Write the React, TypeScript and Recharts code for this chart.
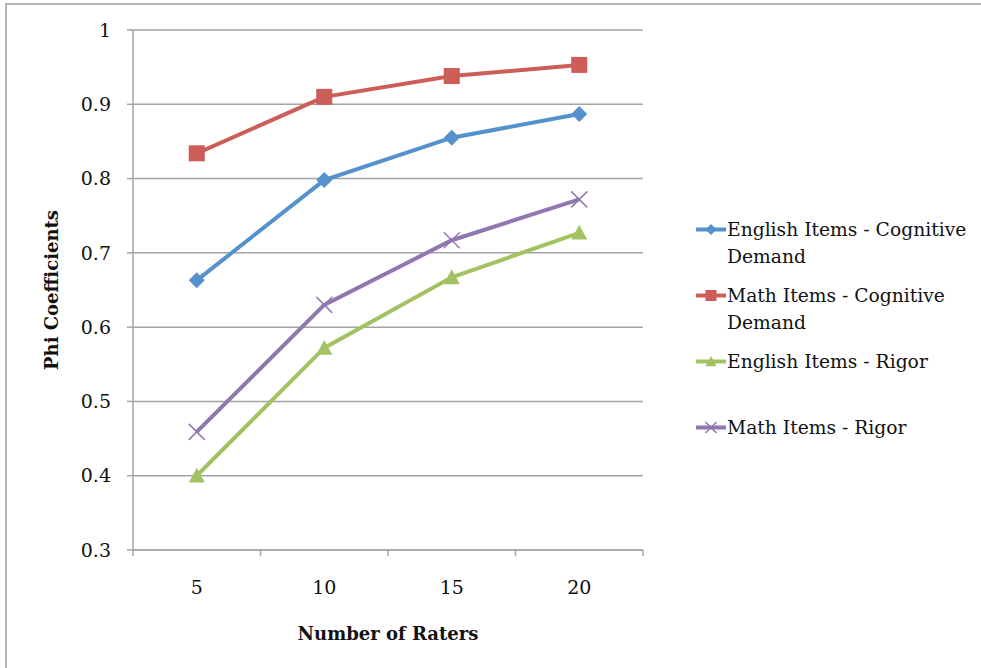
import React from 'react';
import { LineChart, Line, XAxis, YAxis, CartesianGrid } from 'recharts';

// Phi coefficients by number of raters
const raters = [5, 10, 15, 20];
const englishCognitive = [0.663, 0.798, 0.855, 0.887];
const mathCognitive = [0.834, 0.91, 0.938, 0.953];
const englishRigor = [0.4, 0.572, 0.667, 0.727];
const mathRigor = [0.459, 0.63, 0.717, 0.772];

const yTicks = [0.3, 0.4, 0.5, 0.6, 0.7, 0.8, 0.9, 1];
// category centres plus the boundaries between them
const xTicks = [2.5, 5, 7.5, 10, 12.5, 15, 17.5, 20, 22.5];

const SERIES = [
    { key: 'englishCognitive', name: 'English Items - Cognitive Demand', lines: ['English Items - Cognitive', 'Demand'], color: '#5591CD', shape: 'diamond' },
    { key: 'mathCognitive', name: 'Math Items - Cognitive Demand', lines: ['Math Items - Cognitive', 'Demand'], color: '#CC5E57', shape: 'square' },
    { key: 'englishRigor', name: 'English Items - Rigor', lines: ['English Items - Rigor'], color: '#A3C363', shape: 'triangle' },
    { key: 'mathRigor', name: 'Math Items - Rigor', lines: ['Math Items - Rigor'], color: '#9077B0', shape: 'x' },
];

const data = raters.map((r, i) => ({
    raters: r,
    englishCognitive: englishCognitive[i],
    mathCognitive: mathCognitive[i],
    englishRigor: englishRigor[i],
    mathRigor: mathRigor[i],
}));

const FONT = '"DejaVu Serif", serif';
const GRAY = '#a4a4a4';

const Marker = ({ shape, cx, cy, color, size }: any) => {
    const h = size / 2;
    switch (shape) {
        case 'diamond':
            return <polygon points={`${cx},${cy - h} ${cx + h},${cy} ${cx},${cy + h} ${cx - h},${cy}`} fill={color} />;
        case 'square':
            return <rect x={cx - h} y={cy - h} width={size} height={size} fill={color} />;
        case 'triangle':
            return <polygon points={`${cx},${cy - h} ${cx + h},${cy + h * 0.85} ${cx - h},${cy + h * 0.85}`} fill={color} />;
        default:
            return (
                <g stroke={color} strokeWidth={1.5}>
                    <line x1={cx - h} y1={cy - h} x2={cx + h} y2={cy + h} />
                    <line x1={cx - h} y1={cy + h} x2={cx + h} y2={cy - h} />
                </g>
            );
    }
};

const XTick = (props: any) => {
    const { x, y, payload } = props;
    const v = payload.value;
    if (v % 5 !== 0) {
        return <line x1={x} x2={x} y1={y} y2={y + 6} stroke={GRAY} strokeWidth={1.5} />;
    }
    return (
        <text x={x} y={y + 44} textAnchor="middle" style={{ fontSize: 19, fontFamily: FONT }} fill="#111">
            {v}
        </text>
    );
};

const ChartLegend = () => (
    <div style={{ position: 'absolute', left: 696, top: 216, fontFamily: FONT, fontSize: 18.7, color: '#111' }}>
        {SERIES.map(s => (
            <div key={s.key} style={{ height: 66, display: 'flex', alignItems: 'flex-start' }}>
                <svg width={31} height={27} style={{ flex: 'none' }}>
                    <line x1={0} x2={30} y1={13.5} y2={13.5} stroke={s.color} strokeWidth={4} />
                    <Marker shape={s.shape} cx={15} cy={13.5} color={s.color} size={11} />
                </svg>
                <div style={{ lineHeight: '27px', whiteSpace: 'nowrap' }}>
                    {s.lines.map(l => (
                        <div key={l}>{l}</div>
                    ))}
                </div>
            </div>
        ))}
    </div>
);

export default function App() {
    return (
        <div style={{ position: 'absolute', left: 0, top: 0, width: 981, height: 668, overflow: 'hidden', background: '#fff' }}>
            <div style={{ position: 'absolute', left: 5, top: 3, width: 1000, height: 700, border: '2px solid #b4b4b4' }} />
            <div style={{ position: 'absolute', left: 0, top: 0 }}>
                <LineChart width={981} height={668} data={data} margin={{ top: 30, right: 338, left: 73, bottom: 0 }}>
                    <CartesianGrid vertical={false} stroke={GRAY} strokeWidth={1.5} />
                    <XAxis
                        dataKey="raters"
                        type="number"
                        domain={[2.5, 22.5]}
                        ticks={xTicks}
                        interval={0}
                        height={118}
                        tickSize={0}
                        tickMargin={0}
                        tickLine={false}
                        axisLine={{ stroke: GRAY, strokeWidth: 1.5 }}
                        tick={<XTick />}
                        label={{ value: 'Number of Raters', position: 'insideBottom', offset: 28, style: { fontFamily: FONT, fontSize: 18, fontWeight: 'bold', fill: '#111' } }}
                    />
                    <YAxis
                        type="number"
                        domain={[0.3, 1]}
                        ticks={yTicks}
                        interval={0}
                        width={60}
                        tickSize={6}
                        tickMargin={16}
                        tickLine={{ stroke: GRAY, strokeWidth: 1.5 }}
                        axisLine={{ stroke: GRAY, strokeWidth: 1.5 }}
                        tick={{ fill: '#111', style: { fontFamily: FONT, fontSize: 19 } }}
                        tickFormatter={(v: number) => (v === 1 ? '1' : v.toFixed(1))}
                        label={{ value: 'Phi Coefficients', angle: -90, position: 'insideLeft', offset: -21, style: { textAnchor: 'middle', fontFamily: FONT, fontSize: 18, fontWeight: 'bold', fill: '#111' } }}
                    />
                    {SERIES.map(s => (
                        <Line
                            key={s.key}
                            dataKey={s.key}
                            name={s.name}
                            stroke={s.color}
                            strokeWidth={4}
                            isAnimationActive={false}
                            dot={(p: any) => <Marker key={`${s.key}-${p.index}`} shape={s.shape} cx={p.cx} cy={p.cy} color={s.color} size={16} />}
                            activeDot={false}
                        />
                    ))}
                </LineChart>
            </div>
            <ChartLegend />
        </div>
    );
}
